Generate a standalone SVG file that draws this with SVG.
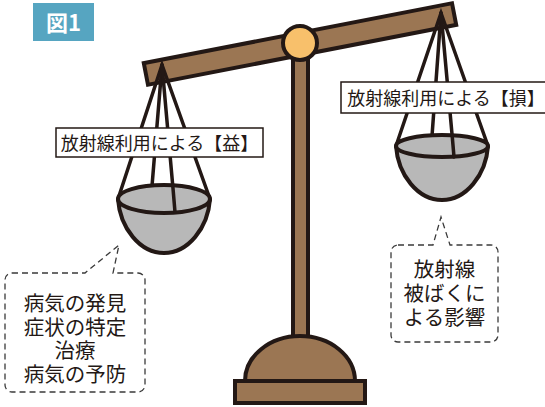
<svg xmlns="http://www.w3.org/2000/svg" width="545" height="407" viewBox="0 0 545 407">
  <style>
    .wood { fill: #9b7653; stroke: #231815; stroke-width: 4; stroke-linejoin: miter; }
    .string { stroke: #231815; stroke-width: 3.5; fill: none; stroke-linecap: round; }
    .bowl { fill: #b8b8b8; stroke: #231815; stroke-width: 4; }
    .label { fill: #fff; stroke: #231815; stroke-width: 1.5; }
    .callout { fill: #fff; stroke: #3a3a3a; stroke-width: 1.3; stroke-dasharray: 6 4; }
    .jp { font-family: "Noto Sans CJK JP", "Noto Sans", sans-serif; fill: #231815; }
  </style>

  <!-- figure tag -->
  <g id="fig-tag">
    <rect x="33" y="3" width="61" height="38" fill="#56a5c1"/>
    <text x="63.5" y="31" text-anchor="middle" class="jp" font-size="22" font-weight="bold" style="fill:#fff">図1</text>
  </g>

  <!-- stand: post, base dome and foot plate -->
  <g id="stand">
    <rect class="wood" x="293" y="50" width="15" height="292"/>
    <path class="wood" d="M245,381 A55,45 0 0 1 355,381 Z"/>
    <rect class="wood" x="235" y="381" width="130" height="22"/>
  </g>

  <!-- balance beam -->
  <g id="beam">
    <rect class="wood" transform="translate(300,44) rotate(-11)" x="-157" y="-11" width="314" height="22"/>
  </g>

  <!-- pivot -->
  <g id="pivot">
    <circle cx="300" cy="43" r="17" fill="#f8c06b" stroke="#231815" stroke-width="4"/>
  </g>

  <g id="connectors">
    <!-- left pan strings -->
    <polyline class="string" points="118,199 162,65 210,199" style="stroke-linejoin:miter"/>
    <line class="string" x1="162" y1="65" x2="152" y2="186"/>
    <line class="string" x1="162" y1="65" x2="175" y2="211"/>
    <!-- right pan strings -->
    <polyline class="string" points="396,146 441,13 488,146" style="stroke-linejoin:miter"/>
    <line class="string" x1="441" y1="13" x2="432" y2="136"/>
    <line class="string" x1="441" y1="13" x2="454" y2="156"/>
  </g>

  <!-- left pan -->
  <g id="pan-left">
    <path class="bowl" d="M118,199 C120,228 140,253 164,253 C188,253 208,228 210,199"/>
    <ellipse class="bowl" cx="164" cy="199" rx="46" ry="14"/>
    <!-- front string seen across the rim -->
    <line class="string" x1="172.8" y1="186" x2="175" y2="212"/>
  </g>

  <!-- right pan -->
  <g id="pan-right">
    <path class="bowl" d="M396,146 C398,175 418,200 442,200 C466,200 486,175 488,146"/>
    <ellipse class="bowl" cx="442" cy="146" rx="46" ry="11"/>
    <line class="string" x1="452.2" y1="136" x2="454" y2="157"/>
  </g>

  <!-- pan labels -->
  <g id="label-benefit">
    <rect class="label" x="56" y="128" width="207" height="29"/>
    <text x="159.5" y="150" text-anchor="middle" class="jp" font-size="18">放射線利用による【益】</text>
  </g>
  <g id="label-risk">
    <rect class="label" x="341" y="82" width="208" height="31"/>
    <text x="446" y="105" text-anchor="middle" class="jp" font-size="18">放射線利用による【損】</text>
  </g>

  <!-- callouts -->
  <g id="callout-benefit">
    <path class="callout" d="M12,273 H85 L119,245 L113,273 H138 A7,7 0 0 1 145,280 V385 A7,7 0 0 1 138,392 H12 A7,7 0 0 1 5,385 V280 A7,7 0 0 1 12,273 Z"/>
    <g class="jp" font-size="20.5" text-anchor="middle">
      <text x="75" y="311">病気の発見</text>
      <text x="75" y="334.5">症状の特定</text>
      <text x="75" y="358">治療</text>
      <text x="75" y="381.5">病気の予防</text>
    </g>
  </g>
  <g id="callout-risk">
    <path class="callout" d="M398,245 H433 L441,217 L450,245 H491 A7,7 0 0 1 498,252 V335 A7,7 0 0 1 491,342 H398 A7,7 0 0 1 391,335 V252 A7,7 0 0 1 398,245 Z"/>
    <g class="jp" font-size="20.5" text-anchor="middle">
      <text x="444.5" y="277">放射線</text>
      <text x="444.5" y="301">被ばくに</text>
      <text x="444.5" y="325">よる影響</text>
    </g>
  </g>
</svg>
